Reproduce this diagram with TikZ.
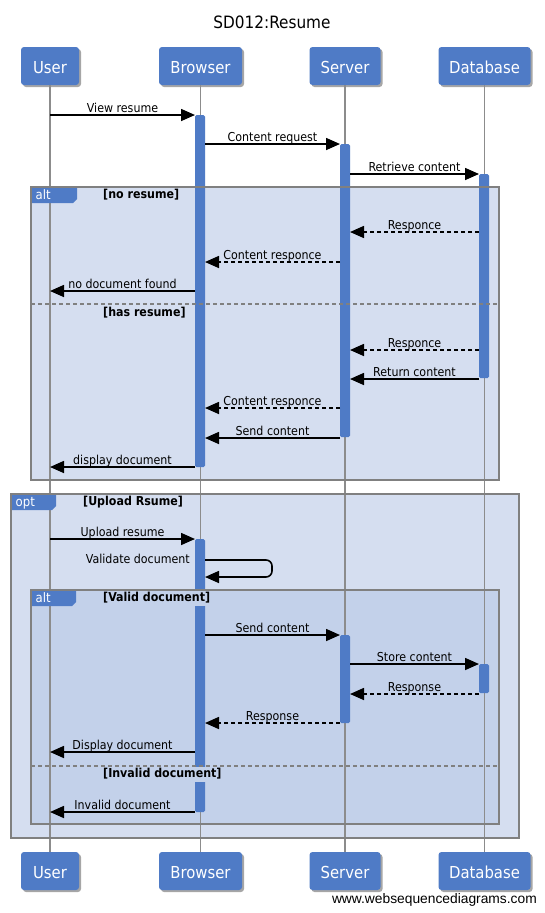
\documentclass[tikz,border=0pt]{standalone}
\usepackage{fontspec}
\setmainfont{DejaVu Sans Condensed}
\newfontfamily\urlfont{Liberation Sans}
\usetikzlibrary{arrows.meta,shadows}
\definecolor{actblue}{HTML}{4F7BC6}
\definecolor{frameA}{HTML}{D5DEF0}
\definecolor{frameB}{HTML}{C3D1EA}
\definecolor{framegray}{HTML}{808080}
\definecolor{lifegray}{HTML}{8C8C8C}
\tikzset{
  actor/.style={fill=actblue, draw=none, rounded corners=3pt, text=white,
    font=\fontsize{16.5}{18}\selectfont, inner sep=0pt, minimum height=38pt,
    text height=14.5pt, text depth=0pt,
    drop shadow={shadow xshift=2pt, shadow yshift=-2pt, opacity=0.35, fill=black}},
  life/.style={draw=lifegray, line width=1.5pt},
  actbar/.style={fill=actblue, draw=none, rounded corners=1.5pt, inner sep=0pt, minimum width=10pt},
  msg/.style={draw=black, line width=1.6pt, -{Triangle[length=14pt,width=12pt]}},
  reply/.style={msg, dash pattern=on 4pt off 3pt},
  lbl/.style={anchor=base, yshift=3pt, inner sep=0pt, font=\fontsize{12.3}{14}\selectfont},
  framebox/.style={draw=framegray, line width=2pt},
  divider/.style={draw=framegray, line width=1.5pt, dash pattern=on 4pt off 3pt},
  tabtext/.style={anchor=base west, text=white, inner sep=0pt, font=\fontsize{13}{15}\selectfont},
  guard/.style={anchor=north west, inner xsep=2pt, inner ysep=1.5pt, text height=9pt, text depth=3pt,
    font=\bfseries\fontsize{12.3}{14}\selectfont}
}
\newcommand\msgline[6]{%
  \coordinate (#1s) at (#3,#2);
  \coordinate (#1e) at (#4,#2);
  \draw[#5] (#1s) -- node[lbl] {#6} (#1e);}
\begin{document}
\begin{tikzpicture}[x=1pt,y=-1pt]
\fill[white] (0,0) rectangle (545,913);
\useasboundingbox (0,0) rectangle (545,913);

% title
\node[anchor=base, inner sep=0pt, font=\fontsize{17}{19}\selectfont] (title) at (272,28) {SD012:Resume};

% frame fills
\fill[frameA] (31,187) rectangle (499,480);
\fill[frameA] (11,494) rectangle (519,838);
\fill[frameB] (31,590) rectangle (499,824);

% actors
\node[actor, minimum width=58pt] (userT) at (50,66) {User};
\node[actor, minimum width=83pt] (browserT) at (200.5,66) {Browser};
\node[actor, minimum width=71pt] (serverT) at (345,66) {Server};
\node[actor, minimum width=92pt] (dbT) at (484.5,66) {Database};
\node[actor, minimum width=58pt] (userB) at (50,871) {User};
\node[actor, minimum width=83pt] (browserB) at (200.5,871) {Browser};
\node[actor, minimum width=71pt] (serverB) at (345,871) {Server};
\node[actor, minimum width=92pt] (dbB) at (484.5,871) {Database};

% lifelines
\draw[life] (userT.south) -- (userB.north);
\draw[life] (browserT.south) -- (browserB.north);
\draw[life] (serverT.south) -- (serverB.north);
\draw[life] (dbT.south) -- (dbB.north);

% activation bars
\node[actbar, anchor=north, minimum height=352pt] (b1) at (200,115) {};
\node[actbar, anchor=north, minimum height=293pt] (s1) at (345,144) {};
\node[actbar, anchor=north, minimum height=204pt] (d1) at (484,174) {};
\node[actbar, anchor=north, minimum height=273pt] (b2) at (200,539) {};
\node[actbar, anchor=north, minimum height=88pt] (s2) at (345,635) {};
\node[actbar, anchor=north, minimum height=29pt] (d2) at (484,664) {};

% frame borders, dividers, tabs
\draw[framebox] (31,187) rectangle (499,480);
\draw[divider] (31,304) -- (499,304);
\draw[framebox] (11,494) rectangle (519,838);
\draw[framebox] (31,590) rectangle (499,824);
\draw[divider] (31,766) -- (499,766);

\fill[actblue] (32,188) -- (77,188) -- (77,199) -- (73,203) -- (32,203) -- cycle;
\node[tabtext] (alt1) at (35.5,199.5) {alt};
\fill[actblue] (12,495) -- (56,495) -- (56,506) -- (52,510) -- (12,510) -- cycle;
\node[tabtext] (opt1) at (15.5,506.5) {opt};
\fill[actblue] (32,591) -- (76,591) -- (76,602) -- (72,606) -- (32,606) -- cycle;
\node[tabtext] (alt2) at (35.5,602.5) {alt};

\node[guard, fill=frameA] (g1) at (101,188) {[no resume]};
\node[guard, fill=frameA] (g2) at (101,306) {[has resume]};
\node[guard, fill=frameA] (g3) at (81,495) {[Upload Rsume]};
\node[guard, fill=frameB] (g4) at (101,591) {[Valid document]};
\node[guard, fill=frameB] (g5) at (101,767) {[Invalid document]};

% messages
\msgline{m1}{115}{50}{195}{msg}{View resume}
\msgline{m2}{144}{205}{340}{msg}{Content request}
\msgline{m3}{174}{350}{479}{msg}{Retrieve content}
\msgline{m4}{232}{479}{350}{reply}{Responce}
\msgline{m5}{262}{340}{205}{reply}{Content responce}
\msgline{m6}{291}{195}{50}{msg}{no document found}
\msgline{m7}{350}{479}{350}{reply}{Responce}
\msgline{m8}{379}{479}{350}{msg}{Return content}
\msgline{m9}{408}{340}{205}{reply}{Content responce}
\msgline{m10}{438}{340}{205}{msg}{Send content}
\msgline{m11}{467}{195}{50}{msg}{display document}
\msgline{m12}{539}{50}{195}{msg}{Upload resume}
\coordinate (v1s) at (205,560);
\coordinate (v1e) at (205,577);
\draw[msg, rounded corners=6pt] (v1s) -- (272,560) -- (272,577) -- (v1e);
\node[lbl, anchor=base east, yshift=0pt] (vlbl) at (190,566) {Validate document};
\msgline{m14}{635}{205}{340}{msg}{Send content}
\msgline{m15}{664}{350}{479}{msg}{Store content}
\msgline{m16}{694}{479}{350}{reply}{Response}
\msgline{m17}{723}{340}{205}{reply}{Response}
\msgline{m18}{752}{195}{50}{msg}{Display document}
\msgline{m19}{812}{195}{50}{msg}{Invalid document}

% footer
\node[anchor=base east, inner sep=0pt, font=\urlfont\fontsize{13.8}{15}\selectfont] (url) at (537,903) {www.websequencediagrams.com};
\end{tikzpicture}
\end{document}
